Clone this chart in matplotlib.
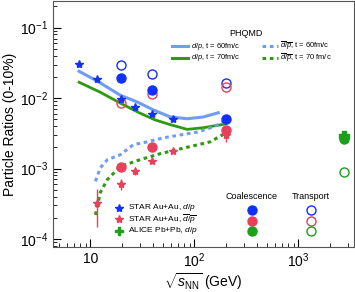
import matplotlib.pyplot as plt
import numpy as np

plt.rcParams['font.family'] = ['Liberation Sans', 'DejaVu Sans']
plt.rcParams['mathtext.fontset'] = 'custom'
plt.rcParams['mathtext.rm'] = 'Liberation Sans'
plt.rcParams['mathtext.it'] = 'Liberation Sans:italic'

# STAR Au+Au d/p
star_dp_x = [7.7, 11.5, 19.6, 27, 39, 62.4, 200]
star_dp_y = [0.031, 0.0185, 0.0097, 0.0075, 0.0060, 0.0051, 0.0050]
star_dp_e = [0.003, 0.0015, 0.0009, 0.0007, 0.0005, 0.0004, 0.0004]

# STAR Au+Au anti-d / anti-p
star_adp_x = [11.5, 19.6, 27, 39, 62.4, 200]
star_adp_y = [3.3e-4, 6.0e-4, 9.1e-4, 1.30e-3, 1.8e-3, 3.0e-3]
star_adp_elo = [1.8e-4, 1.0e-4, 1.0e-4, 1.0e-4, 1.0e-4, 0.6e-3]
star_adp_ehi = [1.8e-4, 1.0e-4, 1.0e-4, 1.0e-4, 1.0e-4, 0.3e-3]

# ALICE Pb+Pb d/p
alice_x = [2760]
alice_y = [0.0029]

# coalescence / transport points
sim_x = [19.6, 39, 200]
coal_dp = [0.019, 0.013, 0.0051]
trans_dp = [0.030, 0.0218, 0.0163]
coal_adp = [1.07e-3, 2.04e-3, 3.5e-3]
trans_adp = [0.0085, 0.0114, 0.0143]
lhc_x = [2760]
coal_lhc = [0.0026]
trans_lhc = [9.0e-4]

# PHQMD curves
dp60_x = [7.8, 11.7, 19.4, 28.3, 40.4, 58.8, 85.5, 122, 170]
dp60_y = [0.0240, 0.0174, 0.0110, 0.0088, 0.0068, 0.0054, 0.0051, 0.0054, 0.0062]
dp70_x = [7.8, 12.5, 19.4, 30.2, 42, 58.8, 85.5, 122, 200]
dp70_y = [0.0168, 0.0121, 0.0085, 0.0061, 0.0049, 0.0042, 0.0036, 0.0038, 0.0043]
adp60_x = [11.2, 12.5, 14.6, 19.4, 25.9, 35.3, 50.3, 73.3, 107, 152, 190]
adp60_y = [6.6e-4, 1.03e-3, 1.34e-3, 1.57e-3, 2.18e-3, 2.4e-3, 2.73e-3, 3.0e-3, 3.3e-3, 3.9e-3, 4.6e-3]
adp70_x = [11.2, 12.5, 14.6, 19.4, 30.2, 47.2, 82, 143, 200]
adp70_y = [2.2e-4, 4.6e-4, 7.0e-4, 1.07e-3, 1.34e-3, 1.63e-3, 1.98e-3, 2.4e-3, 3.2e-3]

c_lblue = '#6f9cf5'
c_green = '#2e9a12'
c_blue = '#1030ff'
c_red = '#e8405a'
c_dgreen = '#1aa01a'
dots = (0, (1.2, 1.2))

fig = plt.figure(figsize=(3.55, 2.92), dpi=100)
ax = fig.add_axes([0.150, 0.154, 0.846, 0.843])

ax.plot(dp60_x, dp60_y, color=c_lblue, lw=2.2)
ax.plot(dp70_x, dp70_y, color=c_green, lw=2.0)
ax.plot(adp60_x, adp60_y, color=c_lblue, lw=2.2, ls=dots)
ax.plot(adp70_x, adp70_y, color=c_green, lw=2.2, ls=dots)

ax.plot(sim_x, trans_dp, 'o', mfc='none', mec=c_blue, ms=6.5, mew=1)
ax.plot(sim_x, trans_adp, 'o', mfc='none', mec=c_red, ms=6.5, mew=1)
ax.plot(lhc_x, trans_lhc, 'o', mfc='none', mec=c_dgreen, ms=6.5, mew=1)

ax.errorbar(star_dp_x, star_dp_y, yerr=star_dp_e, fmt='*', color=c_blue, ms=6, elinewidth=1, capsize=0)
ax.errorbar(star_adp_x, star_adp_y, yerr=[star_adp_elo, star_adp_ehi], fmt='*', color=c_red,
            ms=6, elinewidth=1, capsize=0)

ax.plot(sim_x, coal_dp, 'o', color=c_blue, ms=6.5)
ax.plot(sim_x, coal_adp, 'o', color=c_red, ms=6.5)
ax.plot(lhc_x, coal_lhc, 'o', color=c_dgreen, ms=6.5)
ax.plot(alice_x, alice_y, 'P', color=c_dgreen, ms=7)

ax.set_xscale('log')
ax.set_yscale('log')
ax.set_xlim(4.4, 3400)
ax.set_ylim(7.7e-5, 0.24)
ax.set_xticks([10, 100, 1000])
ax.set_xticklabels(['10', '$10^2$', '$10^3$'])
ax.tick_params(which='both', direction='in', labelsize=10)
ax.tick_params(which='major', length=6)
ax.tick_params(which='minor', length=3)
ax.set_xlabel(r'$\sqrt{s_{\rm NN}}$ (GeV)', fontsize=10, labelpad=1)
ax.set_ylabel('Particle Ratios (0-10%)', fontsize=10, labelpad=2)
for s in ax.spines.values():
    s.set_color('#555555')

T = ax.transAxes
dp = '$d/p$'
adp = r'$\overline{d}/\overline{p}$'

# PHQMD key
ax.text(0.641, 0.866, 'PHQMD', transform=T, fontsize=6.5, ha='center', va='center')
keys = [(0.395, 0.815, c_lblue, '-', dp + ', t = 60fm/c'),
        (0.395, 0.769, c_green, '-', dp + ', t = 70fm/c'),
        (0.694, 0.815, c_lblue, dots, adp + ', t = 60fm/c'),
        (0.694, 0.769, c_green, dots, adp + ', t = 70 fm/c')]
for x0, y0, c, ls, lab in keys:
    ax.plot([x0, x0 + 0.054], [y0, y0], color=c, lw=2.2, ls=ls, transform=T, clip_on=False)
    ax.text(x0 + 0.062, y0, lab, transform=T, fontsize=5.4, va='center')

# data key
skeys = [(0.160, '*', c_blue, 'STAR Au+Au, ' + dp),
         (0.113, '*', c_red, 'STAR Au+Au, ' + adp),
         (0.066, 'P', c_dgreen, 'ALICE Pb+Pb, ' + dp)]
for y0, m, c, lab in skeys:
    ax.plot([0.219], [y0], marker=m, color=c, ms=6, transform=T, clip_on=False)
    ax.text(0.249, y0, lab, transform=T, fontsize=6.0, va='center')

# coalescence / transport key
ax.text(0.661, 0.206, 'Coalescence', transform=T, fontsize=6.5, ha='center', va='center')
ax.text(0.857, 0.206, 'Transport', transform=T, fontsize=6.5, ha='center', va='center')
for y0, c in [(0.150, c_blue), (0.105, c_red), (0.065, c_dgreen)]:
    ax.plot([0.661], [y0], 'o', color=c, ms=6.5, transform=T)
    ax.plot([0.857], [y0], 'o', mfc='none', mec=c, ms=6.5, mew=1, transform=T)

fig.savefig('out.png', dpi=100)
